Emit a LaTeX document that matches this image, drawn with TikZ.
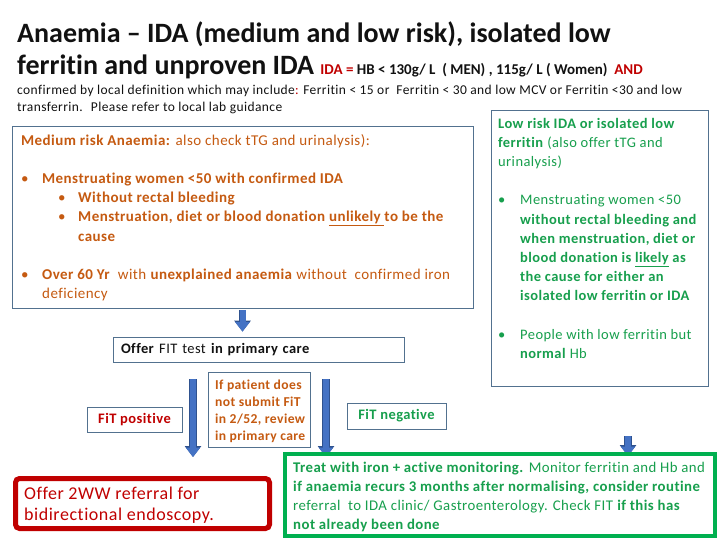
\documentclass[tikz,border=0pt]{standalone}
\usepackage{fontspec}
\setmainfont{Carlito}[LetterSpace=3, Ligatures=NoCommon]
\newfontfamily\headfont{Carlito}[Ligatures=NoCommon]
\usetikzlibrary{positioning, arrows.meta, calc, backgrounds}
\definecolor{titledark}{HTML}{111111}
\definecolor{slidered}{HTML}{C00000}
\definecolor{slideorange}{HTML}{C55A11}
\definecolor{slidegreen}{HTML}{00B050}
\definecolor{textgreen}{HTML}{179F4D}
\definecolor{boxedge}{HTML}{52718F}
\definecolor{arrowfill}{HTML}{4472C4}
\definecolor{arrowedge}{HTML}{2F528F}

\tikzset{
  panel/.style={draw=boxedge, line width=0.8pt, fill=white, inner sep=0pt},
  bodytext/.style={anchor=base west, align=left, inner sep=0pt},
  blockarrow/.style={draw=arrowfill, line width=6pt,
    -{Triangle[width=14pt, length=9.5pt]},
    preaction={draw=arrowedge, line width=7.6pt,
      -{Triangle[width=16pt, length=11pt]}}}
}

\begin{document}
\begin{tikzpicture}[x=1pt, y=-1pt]
  \useasboundingbox (0,0) rectangle (720,540);

  % heading (base anchor = last line of a node)
  \node[bodytext, text=titledark, font=\headfont\fontsize{28}{32}\selectfont\bfseries] (title1) at (17,43)
    {Anaemia – IDA (medium and low risk), isolated low};
  \node[bodytext, text=titledark, font=\headfont\fontsize{28}{32}\selectfont\bfseries] (title2) at (17,75)
    {ferritin and unproven IDA {\fontsize{15}{17}\selectfont\textcolor{slidered}{IDA =} HB < 130g/ L \ ( MEN) , 115g/ L ( Women) \ \textcolor{slidered}{AND}}};
  \node[bodytext, text=titledark, font=\fontsize{13.5}{17}\selectfont] (def1) at (17,95)
    {confirmed by local definition which may include\textcolor{slidered}{:} Ferritin < 15 or \ Ferritin < 30 and low MCV or Ferritin <30 and low};
  \node[bodytext, text=titledark, font=\fontsize{13.5}{17}\selectfont] (def2) at (17,112)
    {transferrin. \ Please refer to local lab guidance};

  % medium risk panel
  \node[panel, minimum width=461pt, minimum height=182pt] (medium) at (242.5,217) {};
  \node[bodytext, text=slideorange, font=\fontsize{15}{19.2}\selectfont] (mediumtxt) at (21,298.6)
    {\textbf{Medium risk Anaemia:} also check tTG and urinalysis):\\[19.2pt]
     \makebox[21pt][l]{•}\textbf{Menstruating women <50 with confirmed IDA}\\
     \hspace*{37pt}\makebox[20pt][l]{•}\textbf{Without rectal bleeding}\\
     \hspace*{37pt}\makebox[20pt][l]{•}\textbf{Menstruation, diet or blood donation \underline{unlikely\ }to be the}\\
     \hspace*{57pt}\textbf{cause}\\[19.2pt]
     \makebox[21pt][l]{•}\textbf{Over 60 Yr} \ with \textbf{unexplained anaemia} without \ confirmed iron\\
     \hspace*{21pt}deficiency};

  % low risk panel
  \node[panel, minimum width=217pt, minimum height=276pt] (low) at (599.5,248) {};
  \node[bodytext, text=textgreen, font=\fontsize{14.5}{19.2}\selectfont] (lowtxt) at (498,358.4)
    {\textbf{Low risk IDA or isolated low}\\
     \textbf{ferritin} (also offer tTG and\\
     urinalysis)\\[19.2pt]
     \makebox[22pt][l]{•}Menstruating women <50\\
     \hspace*{22pt}\textbf{without rectal bleeding and}\\
     \hspace*{22pt}\textbf{when menstruation, diet or}\\
     \hspace*{22pt}\textbf{blood donation is \underline{likely} as}\\
     \hspace*{22pt}\textbf{the cause for either an}\\
     \hspace*{22pt}\textbf{isolated low ferritin or IDA}\\[19.2pt]
     \makebox[22pt][l]{•}People with low ferritin but\\
     \hspace*{22pt}\textbf{normal} Hb};

  % FIT step
  \node[panel, minimum width=291pt, minimum height=25pt, text width=275pt, inner xsep=8pt,
        align=left, text=titledark, font=\fontsize{14.5}{17}\selectfont] (fit) at (258.5,349.5)
    {\textbf{Offer} FIT test \textbf{in primary care}};
  \node[panel, minimum width=95pt, minimum height=25pt, text=slidered,
        font=\fontsize{14.5}{17}\selectfont\bfseries] (fitpos) at (134.5,419.5) {FiT positive};
  \node[panel, minimum width=102pt, minimum height=75pt] (nosubmit) at (259,409.5) {};
  \node[bodytext, text=slideorange, font=\fontsize{13.6}{17}\selectfont\bfseries] (nosubmittxt) at (215,440)
    {If patient does\\ not submit FiT\\ in 2/52, review\\ in primary care};
  \node[panel, minimum width=99pt, minimum height=26pt, text=textgreen,
        font=\fontsize{14.5}{17}\selectfont\bfseries] (fitneg) at (396.5,416) {FiT negative};

  % outcomes
  \node[draw=slidered, line width=5pt, fill=white, rounded corners=4pt,
        minimum width=254pt, minimum height=50pt] (refer) at (142.5,503.5) {};
  \node[bodytext, text=slidered, font=\fontsize{18}{21}\selectfont] (refertxt) at (24,520)
    {Offer 2WW referral for\\ bidirectional endoscopy.};
  \node[draw=slidegreen, line width=4pt, fill=white,
        minimum width=430pt, minimum height=82pt] (treat) at (500,495) {};
  \node[bodytext, text=textgreen, font=\fontsize{14.8}{19.3}\selectfont] (treattxt) at (293,529.9)
    {\textbf{Treat with iron + active monitoring.} Monitor ferritin and Hb and\\
     \textbf{if anaemia recurs 3 months after normalising, consider routine}\\
     referral \ to IDA clinic/ Gastroenterology. Check FIT \textbf{if this has}\\
     \textbf{not already been done}};

  % arrows
  \draw[blockarrow, shorten <=2pt, shorten >=5pt] (medium.south) -- (medium.south |- fit.north);
  \draw[blockarrow, shorten <=17pt, shorten >=19pt]
    ([xshift=-65.5pt]fit.south) -- ([xshift=-65.5pt]fit.south |- refer.north);
  \begin{scope}[on background layer]
    \draw[blockarrow, shorten <=17pt, shorten >=-5pt]
      ([xshift=67.5pt]fit.south) -- ([xshift=67.5pt]fit.south |- treat.north);
    \draw[blockarrow, shorten <=50pt, shorten >=-4pt]
      ([xshift=28.5pt]low.south) -- ([xshift=28.5pt]low.south |- treat.north);
  \end{scope}
\end{tikzpicture}
\end{document}
